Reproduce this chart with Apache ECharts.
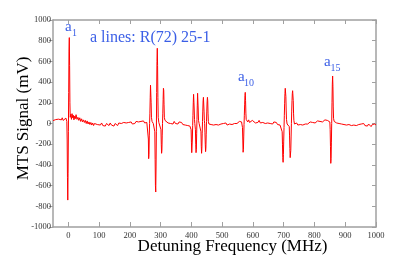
<!DOCTYPE html>
<html><head><meta charset="utf-8">
<script src="https://cdn.jsdelivr.net/npm/echarts@6/dist/echarts.min.js"></script>
<style>html,body{margin:0;padding:0;background:#fff}#c{width:415px;height:255px}</style>
</head><body><div id="c"></div>
<script>
// ---- data (MHz, mV) ----
const xTickValues = [0,100,200,300,400,500,600,700,800,900,1000];
const yRange = [-1000, 1000];
const xRange = [-50, 1000];

const baselinePre = [[-50,28],[-47,45],[-44,22],[-41,38],[-38,50],[-35,30],[-32,42],[-29,25],[-26,48],[-23,35],[-20,55],[-17,30],[-14,45],[-11,38],[-8,52],[-6,40]];
const lineA1 = [[-5,20],[-4,-150],[-3,-520],[-2,-740],[-1,-480],[0,-80],[1,300],[2,700],[3,830],[4,560],[5,200],[6,60]];
const baselineDrift = [[8,90],[10,40],[12,95],[14,55],[16,80],[18,35],[20,70],[22,45],[25,85],[28,40],[31,60],[34,30],[37,55],[40,20],[43,45],[46,15],[49,35],[52,10],[55,30],[58,0],[61,25],[64,-5],[67,15],[70,-10],[73,10],[76,-15],[79,5],[82,-20],[85,0],[88,-15],[91,10],[94,-10],[97,-25],[100,0],[104,-15],[108,5],[112,-20],[116,-5],[120,-25],[124,0],[128,-10],[132,-20],[136,5],[140,-15],[144,-5],[148,-25],[152,0],[156,-10],[160,-20],[164,5],[168,-10],[172,0],[176,-15],[180,10],[184,-5],[188,5],[192,-10],[196,10],[200,0],[204,15],[208,-5],[212,10],[216,0],[220,20],[224,5],[228,15],[232,0],[236,20],[240,10],[244,25],[248,5],[252,20],[255,10],[257,25]];
const group280 = [[259,0],[260,-150],[261,-340],[262,-300],[263,-120],[264,0],[265,100],[266,250],[267,370],[268,360],[269,200],[270,60],[272,20],[274,10],[276,0],[278,15],[280,-10],
  [281,-80],[282,-350],[283,-600],[284,-662],[285,-420],[286,-80],[287,300],[288,600],[289,727],[290,560],[291,250],[292,60],[294,10],[296,20],[298,0],[300,10],
  [301,-60],[302,-200],[303,-288],[304,-260],[305,-120],[306,0],[307,100],[308,230],[309,340],[310,320],[311,180],[312,60],[314,30],[317,15]];
const baselineMid1 = [[320,25],[324,5],[328,20],[332,0],[336,15],[340,-5],[344,20],[348,0],[352,10],[356,-5],[360,15],[364,0],[368,10],[372,-10],[376,5],[380,-15],[384,0],[388,-20],[392,-10],[395,-25],[398,-15]];
const group430 = [[399,-60],[400,-180],[401,-282],[402,-270],[403,-150],[404,-20],[405,80],[406,200],[407,282],[408,270],[409,140],[410,40],[411,0],[412,10],
  [413,-60],[414,-200],[415,-282],[416,-250],[417,-100],[418,40],[419,170],[420,292],[421,280],[422,140],[423,30],[425,0],[428,10],[430,0],
  [431,-80],[432,-220],[433,-288],[434,-240],[435,-100],[436,20],[437,120],[438,220],[439,253],[440,240],[441,120],[442,30],[443,0],
  [444,-90],[445,-200],[446,-272],[447,-240],[448,-110],[449,20],[450,120],[451,210],[452,253],[453,220],[454,100],[455,20],[457,-5]];
const baselineMid2 = [[460,10],[464,-10],[468,5],[472,-15],[476,0],[480,-10],[484,5],[488,-15],[492,0],[496,-5],[500,-20],[504,0],[508,-10],[512,5],[516,-15],[520,0],[524,-5],[528,10],[532,-10],[536,5],[540,0],[544,15],[548,0],[552,10],[556,20],[560,5],[563,15],[565,10]];
const lineA10 = [[566,-40],[567,-160],[568,-278],[569,-250],[570,-130],[571,-10],[572,80],[573,180],[574,270],[575,301],[576,220],[577,100],[578,40],[580,30]];
const baselineMid3 = [[583,15],[586,35],[589,10],[592,25],[595,5],[598,30],[601,15],[604,25],[608,5],[612,20],[616,10],[620,30],[624,5],[628,20],[632,10],[636,25],[640,0],[644,15],[648,5],[652,20],[656,0],[660,10],[664,-5],[668,15],[672,0],[676,10],[680,-10],[684,5],[688,-15],[691,0],[693,-10]];
const group715 = [[694,-10],[695,-80],[696,-200],[697,-330],[698,-375],[699,-300],[700,-170],[701,-40],[702,80],[703,190],[704,290],[705,340],[706,350],[707,260],[708,130],[709,40],[711,-5],[713,10],[715,-5],[717,5],[718,-30],
  [719,-120],[720,-240],[721,-330],[722,-343],[723,-260],[724,-130],[725,0],[726,120],[727,220],[728,290],[729,317],[730,310],[731,220],[732,100],[733,30],[735,-5]];
const baselineMid4 = [[738,-10],[742,5],[746,-15],[750,0],[754,-10],[758,5],[762,-15],[766,0],[770,-5],[774,10],[778,-5],[782,5],[786,15],[790,0],[794,10],[798,20],[802,5],[806,15],[810,25],[814,10],[818,20],[822,30],[826,15],[830,25],[834,35],[838,20],[842,30],[845,40],[848,25],[850,15]];
const lineA15 = [[851,-60],[852,-220],[853,-385],[854,-340],[855,-180],[856,0],[857,200],[858,380],[859,459],[860,360],[861,160],[862,50],[864,20]];
const baselineEnd = [[866,10],[869,25],[872,5],[876,15],[880,0],[884,10],[888,-5],[892,10],[896,-10],[900,5],[904,-15],[908,0],[912,-10],[916,5],[920,-20],[924,-5],[928,-15],[932,0],[936,-20],[940,-5],[944,-10],[948,-25],[952,-5],[956,-15],[960,0],[964,-20],[968,-10],[972,-25],[976,-5],[980,-15],[984,-30],[988,-10],[992,-20],[996,-5],[1000,-15]];

const annotationTitle = 'a lines: R(72) 25-1';
const peakLabels = [{main:'a', sub:'1'}, {main:'a', sub:'10'}, {main:'a', sub:'15'}];

// ---- build ----
const signal = [].concat(baselinePre, lineA1, baselineDrift, group280, baselineMid1, group430,
  baselineMid2, lineA10, baselineMid3, group715, baselineMid4, lineA15, baselineEnd);

const serif = '"Liberation Serif", "DejaVu Serif", serif';
const axisGrey = '#a0a0a0';
const blue = '#3a5ee6';
const plain = v => String(v);
const chart = echarts.init(document.getElementById('c'), null, {renderer:'canvas'});

function xAxisCfg(pos, showLabels) {
  return {
    type:'value', position:pos, min:xRange[0], max:xRange[1],
    axisLine:{show:true, onZero:false, lineStyle:{color:axisGrey, width:1.5}},
    axisTick:{show:true, inside:true, length:pos==='bottom'?5:4, customValues:xTickValues, lineStyle:{color:axisGrey}},
    axisLabel:{show:showLabels, customValues:xTickValues, formatter:plain, color:'#333', fontFamily:serif, fontSize:8.5, margin:4},
    splitLine:{show:false}
  };
}
function yAxisCfg(pos, showLabels) {
  return {
    type:'value', position:pos, min:yRange[0], max:yRange[1], interval:200,
    axisLine:{show:true, onZero:false, lineStyle:{color:axisGrey, width:1.5}},
    axisTick:{show:true, inside:pos!=='left', length:4, lineStyle:{color:axisGrey}},
    axisLabel:{show:showLabels, formatter:plain, color:'#333', fontFamily:serif, fontSize:8.5, margin:2},
    splitLine:{show:false}
  };
}

const xb = xAxisCfg('bottom', true);
xb.name = 'Detuning Frequency (MHz)';
xb.nameLocation = 'middle';
xb.nameGap = 11;
xb.nameMoveOverlap = false;
xb.nameTextStyle = {fontFamily:serif, fontSize:17, color:'#000', padding:[0,0,0,36]};
const yl = yAxisCfg('left', true);
yl.name = 'MTS Signal (mV)';
yl.nameLocation = 'middle';
yl.nameGap = 21;
yl.nameMoveOverlap = false;
yl.nameTextStyle = {fontFamily:serif, fontSize:17, color:'#000', padding:[0,0,0,10]};

chart.setOption({
  animation:false,
  backgroundColor:'#fff',
  grid:{left:53, right:39, top:20, bottom:28, containLabel:false, outerBoundsMode:'none'},
  xAxis:[xb, xAxisCfg('top', false)],
  yAxis:[yl, yAxisCfg('right', false)],
  series:[{
    type:'line', data:signal, showSymbol:false, symbol:'none',
    lineStyle:{color:'#ff0000', width:1}, xAxisIndex:0, yAxisIndex:0
  }],
  graphic:[
    {type:'text', left:90, top:30, style:{text:annotationTitle, font:'16px '+serif, fill:blue}},
    {type:'text', left:65, top:20, style:{text:peakLabels[0].main, font:'15px '+serif, fill:blue}},
    {type:'text', left:72, top:28, style:{text:peakLabels[0].sub, font:'10px '+serif, fill:blue}},
    {type:'text', left:238, top:70, style:{text:peakLabels[1].main, font:'15px '+serif, fill:blue}},
    {type:'text', left:244, top:78, style:{text:peakLabels[1].sub, font:'10px '+serif, fill:blue}},
    {type:'text', left:324, top:55, style:{text:peakLabels[2].main, font:'15px '+serif, fill:blue}},
    {type:'text', left:330.5, top:63, style:{text:peakLabels[2].sub, font:'10px '+serif, fill:blue}}
  ]
});
</script></body></html>
